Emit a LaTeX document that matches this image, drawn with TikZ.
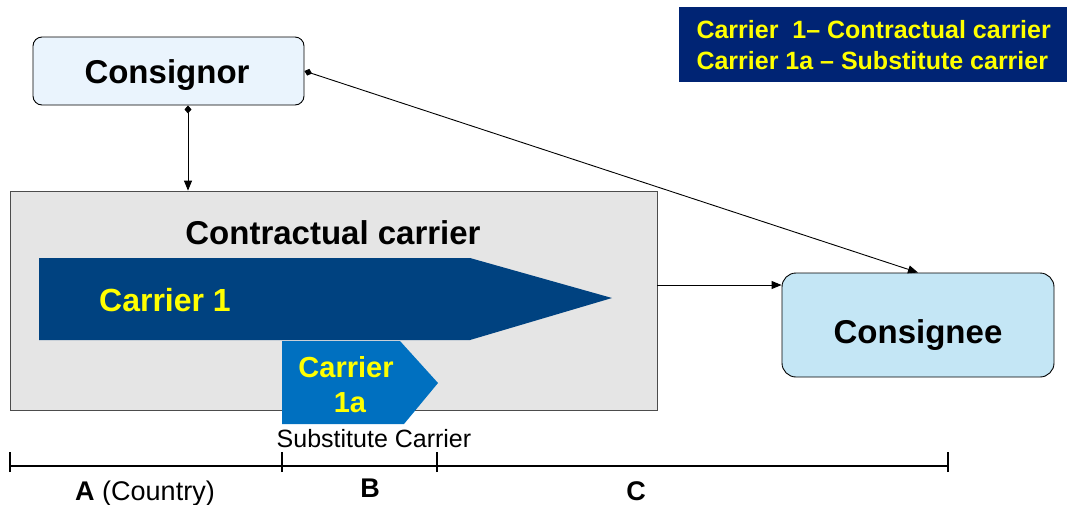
\documentclass[tikz,border=0pt]{standalone}
\usepackage{fontspec}
\setmainfont{Liberation Sans}
\usetikzlibrary{arrows.meta,calc}
\definecolor{navy}{RGB}{0,36,116}
\definecolor{carrierone}{RGB}{0,66,128}
\definecolor{carriersub}{RGB}{0,112,192}
\definecolor{panelgray}{RGB}{229,229,229}
\definecolor{senderfill}{RGB}{234,244,253}
\definecolor{receiverfill}{RGB}{196,230,245}
\definecolor{txtyellow}{RGB}{255,255,0}
\tikzset{
  party/.style={draw=black, line width=0.9pt, rounded corners=9pt, inner sep=0pt},
  bigbold/.style={font=\fontsize{33}{36}\selectfont\bfseries, anchor=base},
  yellowtxt/.style={text=txtyellow, font=\fontsize{#1}{#1}\selectfont\bfseries, anchor=base},
  conn/.style={line width=0.9pt, -{Triangle[length=10pt,width=8pt]}},
  dconn/.style={line width=0.9pt, {Diamond[length=8pt,width=7pt]}-{Triangle[length=10pt,width=8pt]}},
  ruler/.style={line width=2.6pt},
  seglabel/.style={font=\fontsize{27}{27}\selectfont, anchor=base}
}
\begin{document}
\begin{tikzpicture}[x=1pt,y=-1pt]
\useasboundingbox (0,0) rectangle (1072,504);

% legend box
\node[fill=navy, minimum width=388pt, minimum height=75pt, inner sep=0pt] (legend) at (873,44.5) {};
\node[yellowtxt=25, anchor=base west] (leg1) at (693,38) {Carrier\ \ 1– Contractual carrier};
\node[yellowtxt=25, anchor=base west] (leg2) at (693,69) {Carrier 1a – Substitute carrier};

% parties
\node[party, fill=senderfill, minimum width=271pt, minimum height=68pt] (consignor) at (168.5,71) {};
\node[bigbold] (consignortxt) at (167,83) {Consignor};

\node[party, fill=receiverfill, rounded corners=14pt, minimum width=272pt, minimum height=104pt] (consignee) at (918,325) {};
\node[bigbold] (consigneetxt) at (918,343) {Consignee};

% contractual carrier panel
\node[draw=black!70, line width=0.8pt, fill=panelgray, minimum width=647pt, minimum height=219pt, inner sep=0pt] (contract) at (333.5,300.5) {};
\node[bigbold] (contracttxt) at (333,244) {Contractual carrier};

% carrier arrows
\fill[carrierone] (39,258) -- (470,258) -- (612,298) -- (470,340) -- (39,340) -- cycle;
\node[yellowtxt=32] (c1txt) at (165,311) {Carrier 1};
\fill[carriersub] (282,341) -- (400,341) -- (438,383) -- (404,424) -- (282,424) -- cycle;
\node[yellowtxt=29] (c1atxt) at (346,377) {Carrier};
\node[yellowtxt=29] (c1btxt) at (350,412) {1a};
\node[font=\fontsize{25}{25}\selectfont, anchor=base] (subtxt) at (374,447) {Substitute Carrier};

% connectors
\draw[dconn] ([xshift=19.5pt]consignor.south) -- ([xshift=19.5pt]consignor.south |- contract.north);
\draw[dconn] (consignor.east) -- (consignee.north);
\coordinate (cx) at ([yshift=15.5pt]contract.east);
\draw[conn] (cx) -- (cx -| consignee.west);

% distance ruler
\coordinate (r0) at (10,466);
\coordinate (r1) at (282,466);
\coordinate (r2) at (437,466);
\coordinate (r3) at (948,466);
\draw[ruler] (r0) -- (r3);
\foreach \p in {r0,r1,r2,r3} \draw[line width=2.2pt] ([yshift=-6pt]\p) -- ([yshift=14pt]\p);
\node[seglabel] (la) at (145,500) {\textbf{A} (Country)};
\node[seglabel] (lb) at (370,497) {\textbf{B}};
\node[seglabel] (lc) at (636,500) {\textbf{C}};
\end{tikzpicture}
\end{document}
